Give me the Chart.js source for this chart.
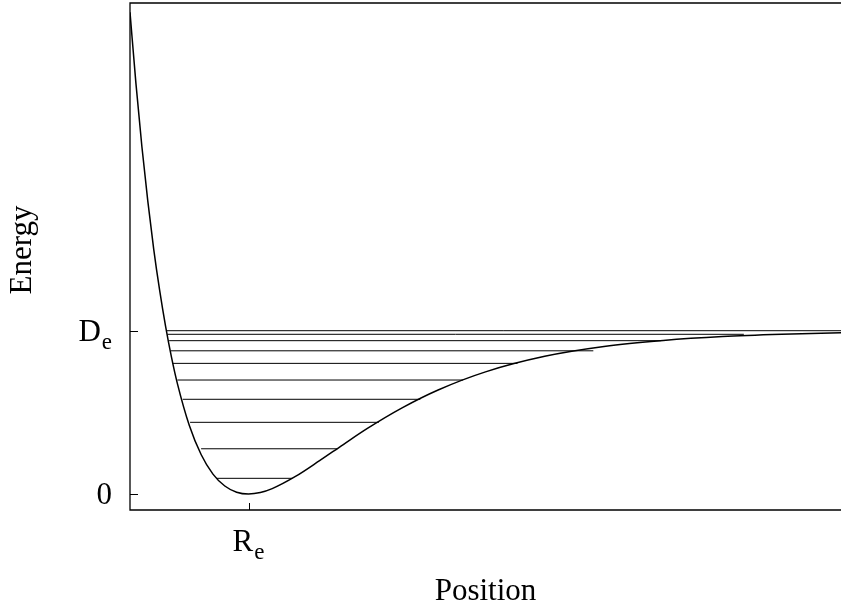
<!DOCTYPE html>
<html>
<head>
<meta charset="utf-8">
<script src="https://cdn.jsdelivr.net/npm/chart.js@4"></script>
<style>
  html, body { margin: 0; padding: 0; background: #fff; }
  #wrap { width: 841px; height: 608px; }
</style>
</head>
<body>
<div id="wrap"><canvas id="chart" width="841" height="608"></canvas></div>
<script>
// Potential curve (position in units of R_e, energy in units of D_e)
const curveX = [0, 0.05, 0.1, 0.15, 0.2, 0.25, 0.3, 0.35, 0.4, 0.5, 0.6, 0.7, 0.8, 0.9, 1.0,
                1.1, 1.2, 1.4, 1.6, 1.8, 2.0, 2.3, 2.6, 3.0, 3.5, 4.0, 4.5, 5.0, 5.5, 6.0];
const curveE = [2.95, 2.515, 2.13, 1.795, 1.50, 1.248, 1.028, 0.838, 0.676, 0.421, 0.242, 0.122, 0.049, 0.011, 0,
                0.009, 0.033, 0.109, 0.204, 0.303, 0.40, 0.529, 0.637, 0.748, 0.843, 0.903, 0.94, 0.964, 0.978, 0.987];

// Vibrational levels: energy and where each line starts / ends
const levelE     = [0.096, 0.277, 0.439, 0.580, 0.698, 0.800, 0.877, 0.939, 0.978, 1.000];
const levelLeft  = [0.73, 0.60, 0.507, 0.445, 0.40, 0.363, 0.346, 0.33, 0.315, 0.31];
const levelRight = [1.37, 1.75, 2.10, 2.45, 2.81, 3.27, 3.91, 4.48, 5.18, 6.0];

// Tick positions and labels (main text, subscript)
const yTickValues = [0, 1];
const yTickLabels = [['0', ''], ['D', 'e']];
const xTickValues = [1];
const xTickLabels = [['R', 'e']];

const xTitle = 'Position';
const yTitle = 'Energy';

const FONT = '"Liberation Serif", "Times New Roman", serif';

const datasets = [];
datasets.push({
    data: curveX.map((x, i) => ({ x: x, y: curveE[i] })),
    showLine: true,
    borderColor: '#000',
    borderWidth: 1.5,
    pointRadius: 0,
    cubicInterpolationMode: 'monotone'
});
for (let i = 0; i < levelE.length; i++) {
    datasets.push({
        data: [{ x: levelLeft[i], y: levelE[i] }, { x: levelRight[i], y: levelE[i] }],
        showLine: true,
        borderColor: '#000',
        borderWidth: 1,
        pointRadius: 0
    });
}

function drawLabel(ctx, parts, x, y, align) {
    ctx.font = '31px ' + FONT;
    const w1 = ctx.measureText(parts[0]).width;
    ctx.font = '23px ' + FONT;
    const w2 = parts[1] ? ctx.measureText(parts[1]).width + 1 : 0;
    const total = w1 + w2;
    let left = x;
    if (align === 'right') left = x - total;
    if (align === 'center') left = x - total / 2;
    ctx.textAlign = 'left';
    ctx.textBaseline = 'alphabetic';
    ctx.font = '31px ' + FONT;
    ctx.fillText(parts[0], left, y);
    if (parts[1]) {
        ctx.font = '23px ' + FONT;
        ctx.fillText(parts[1], left + w1 + 1, y + 8);
    }
}

const axesDecor = {
    id: 'axesDecor',
    afterDraw(chart) {
        const ctx = chart.ctx;
        const area = chart.chartArea;
        const xs = chart.scales.x;
        const ys = chart.scales.y;
        ctx.save();
        ctx.strokeStyle = '#000';
        ctx.fillStyle = '#000';
        ctx.lineWidth = 1.3;

        // box: top, left and bottom edges (right edge falls outside the picture)
        ctx.beginPath();
        ctx.moveTo(area.right, area.top);
        ctx.lineTo(area.left, area.top);
        ctx.lineTo(area.left, area.bottom);
        ctx.lineTo(area.right, area.bottom);
        ctx.stroke();

        // inward tick marks
        ctx.lineWidth = 1;
        yTickValues.forEach(v => {
            const py = Math.round(ys.getPixelForValue(v)) + 0.5;
            ctx.beginPath();
            ctx.moveTo(area.left, py);
            ctx.lineTo(area.left + 8, py);
            ctx.stroke();
        });
        xTickValues.forEach(v => {
            const px = Math.round(xs.getPixelForValue(v)) + 0.5;
            ctx.beginPath();
            ctx.moveTo(px, area.bottom);
            ctx.lineTo(px, area.bottom - 7);
            ctx.stroke();
        });

        // tick labels
        yTickValues.forEach((v, i) => {
            drawLabel(ctx, yTickLabels[i], area.left - 18, ys.getPixelForValue(v) + 10.5, 'right');
        });
        xTickValues.forEach((v, i) => {
            drawLabel(ctx, xTickLabels[i], xs.getPixelForValue(v), area.bottom + 41, 'center');
        });

        // axis titles
        ctx.font = '31px ' + FONT;
        ctx.textAlign = 'center';
        ctx.textBaseline = 'alphabetic';
        ctx.fillText(xTitle, (area.left + area.right) / 2, 600);
        ctx.translate(31, 250);
        ctx.rotate(-Math.PI / 2);
        ctx.fillText(yTitle, 0, 0);
        ctx.restore();
    }
};

const chart = new Chart(document.getElementById('chart').getContext('2d'), {
    type: 'scatter',
    data: { datasets: datasets },
    options: {
        responsive: false,
        animation: false,
        layout: { padding: { top: 3, right: 0, left: 0, bottom: 0 } },
        plugins: {
            legend: { display: false },
            tooltip: { enabled: false }
        },
        scales: {
            x: {
                type: 'linear',
                min: 0,
                max: 6,
                grid: { display: false },
                border: { display: false },
                ticks: { display: false },
                afterFit: function (scale) { scale.height = 98; }
            },
            y: {
                type: 'linear',
                min: -0.098,
                max: 3.007,
                grid: { display: false },
                border: { display: false },
                ticks: { display: false },
                afterFit: function (scale) { scale.width = 130; }
            }
        }
    },
    plugins: [axesDecor]
});
</script>
</body>
</html>
